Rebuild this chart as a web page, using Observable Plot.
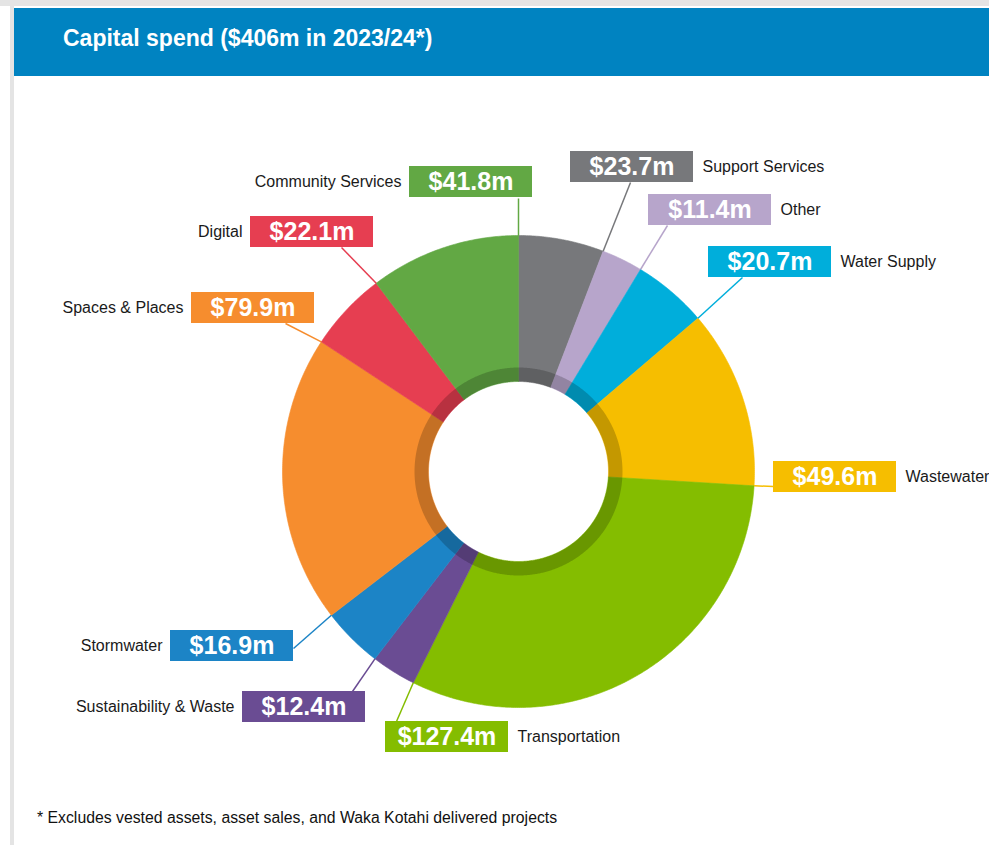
<!DOCTYPE html>
<html><head><meta charset="utf-8">
<script src="https://cdn.jsdelivr.net/npm/d3@7"></script>
<script src="https://cdn.jsdelivr.net/npm/@observablehq/plot@0.6"></script>
<style>
body{margin:0;background:#fff;font-family:"Liberation Sans",Arial,Helvetica,sans-serif;}
#page{position:relative;width:989px;height:845px;overflow:hidden;background:#fff}
.topband{position:absolute;left:0;top:0;width:989px;height:6px;background:#e4e4e4}
.leftband{position:absolute;left:10px;top:0;width:4px;height:845px;background:#e4e4e4}
.header{position:absolute;left:14px;top:8px;width:975px;height:68px;background:#0083c1}
.title{position:absolute;left:49px;top:19px;line-height:23px;font-size:23px;font-weight:bold;color:#fff;white-space:nowrap}
#chart{position:absolute;left:0;top:76px}
.note{position:absolute;left:37px;top:810px;font-size:15.8px;line-height:15px;color:#111;white-space:nowrap}
</style></head><body>
<div id="page">
  <div class="topband"></div>
  <div class="leftband"></div>
  <div class="header"><span class="title">Capital spend ($406m in 2023/24*)</span></div>
  <div id="chart"></div>
  <div class="note">* Excludes vested assets, asset sales, and Waka Kotahi delivered projects</div>
</div>
<script>
// ---- data ----
const categories = ["Support Services","Other","Water Supply","Wastewater","Transportation","Sustainability & Waste","Stormwater","Spaces & Places","Digital","Community Services"];
const values = [23.7, 11.4, 20.7, 49.6, 127.4, 12.4, 16.9, 79.9, 22.1, 41.8];
const colors = ["#77787b","#b7a5cb","#00aedb","#f6be00","#84bd00","#6a4c93","#1c84c6","#f68d2e","#e63e51","#62a844"];

// ---- layout (page pixels): label box left/top, leader attach point, label side ----
const boxLeft   = [570, 648, 708, 773, 385, 242, 170, 191, 250, 409];
const boxTop    = [151, 194, 246, 461, 721, 691, 630, 292, 216, 166];
const attachX   = [630, 667, 742, 773, 396, 352, 293, 285, 341, 518];
const attachY   = [182, 225, 277, 486, 721, 691, 648, 323, 247, 198];
const labelSide = ["right","right","right","right","right","left","left","left","left","left"];
const BOX_W = 123, BOX_H = 31;

const W = 989, H = 730, TOP = 76;
const CX = 518, CY = 471 - TOP, R = 236;
const R_IN = 90 / R, RING = 104 / R;

const toX = px => (px - CX) / R;
const toY = py => (CY - (py - TOP)) / R;

const pie = d3.pie().sort(null).value(d => d.value)(categories.map((c, i) => ({name: c, value: values[i], color: colors[i], i})));

const polar = (a, r) => [r * Math.sin(a), r * Math.cos(a)];

function annulusPts(a0, a1, r0, r1, key) {
  const n = Math.max(4, Math.ceil((a1 - a0) / (Math.PI / 360)));
  const pts = [];
  for (let k = 0; k <= n; k++) { const a = a0 + (a1 - a0) * k / n; const [x, y] = polar(a, r1); pts.push({x, y, key}); }
  for (let k = n; k >= 0; k--) { const a = a0 + (a1 - a0) * k / n; const [x, y] = polar(a, r0); pts.push({x, y, key}); }
  pts.push({...pts[0]});
  return pts;
}

const slicePts = pie.flatMap(s => annulusPts(s.startAngle, s.endAngle, R_IN, 1, s.data.name));
const ringPts = annulusPts(0, 2 * Math.PI, R_IN, RING, "ring");

const labels = pie.map(s => {
  const i = s.data.i;
  const [ax, ay] = polar(s.endAngle, 1);
  const bx0 = boxLeft[i], by0 = boxTop[i];
  const right = labelSide[i] === "right";
  return {
    name: s.data.name, color: s.data.color,
    text: "$" + s.data.value.toFixed(1) + "m",
    ax, ay,
    lx: toX(attachX[i]), ly: toY(attachY[i]),
    x1: toX(bx0), x2: toX(bx0 + BOX_W), y1: toY(by0 + BOX_H), y2: toY(by0),
    cx: toX(bx0 + BOX_W / 2), cy: toY(by0 + BOX_H / 2),
    tx: toX(right ? bx0 + BOX_W + 9 : bx0 - 8), anchor: right ? "start" : "end"
  };
});

const font = '"Liberation Sans", Arial, Helvetica, sans-serif';

const chart = Plot.plot({
  width: W, height: H, margin: 0,
  x: {domain: [toX(0), toX(W)], range: [0, W], axis: null},
  y: {domain: [toY(TOP + H), toY(TOP)], range: [H, 0], axis: null},
  color: {domain: categories, range: colors},
  style: {fontFamily: font, background: "transparent", overflow: "visible"},
  marks: [
    Plot.line(slicePts, {x: "x", y: "y", z: "key", fill: "key", stroke: "key", strokeWidth: 0.6, curve: "linear"}),
    Plot.line(ringPts, {x: "x", y: "y", fill: "black", fillOpacity: 0.2, stroke: "none"}),
    Plot.link(labels, {x1: "ax", y1: "ay", x2: "lx", y2: "ly", stroke: "name", strokeWidth: 1.5}),
    Plot.rect(labels, {x1: "x1", x2: "x2", y1: "y1", y2: "y2", fill: "name"}),
    Plot.text(labels, {x: "cx", y: "cy", text: "text", fill: "white", fontSize: 25, fontWeight: "bold", fontFamily: font, textAnchor: "middle"}),
    Plot.text(labels.filter(d => d.anchor === "start"), {x: "tx", y: "cy", text: "name", fill: "#1a1a1a", fontSize: 16, fontFamily: font, textAnchor: "start"}),
    Plot.text(labels.filter(d => d.anchor === "end"), {x: "tx", y: "cy", text: "name", fill: "#1a1a1a", fontSize: 16, fontFamily: font, textAnchor: "end"})
  ]
});
document.getElementById("chart").appendChild(chart);
</script>
</body></html>
